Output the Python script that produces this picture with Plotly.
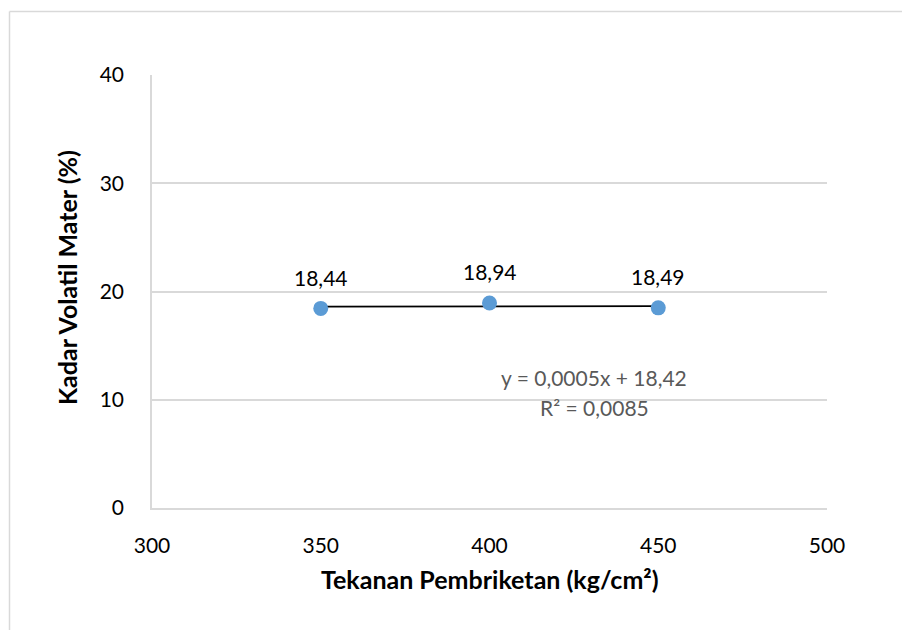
import numpy as np
import plotly.graph_objects as go

# Briquetting pressure vs. volatile matter content
tekanan = [350, 400, 450]
kadar_volatil = [18.44, 18.94, 18.49]
label_nilai = ["18,44", "18,94", "18,49"]

x_ticks = [300, 350, 400, 450, 500]
y_ticks = [0, 10, 20, 30, 40]

# Linear trendline as reported on the chart
trend_slope = 0.0005
trend_intercept = 18.42
eq_text = "y = 0,0005x + 18,42"
r2_text = "R² = 0,0085"

# Least-squares fit used to draw the trendline segment
slope, intercept = np.polyfit(tekanan, kadar_volatil, 1)

FONT = "Lato, 'Open Sans', sans-serif"
GRID = "#d9d9d9"

# Plot-area geometry in pixels (used for outline/title placement)
PL, PR, PT, PB = 152, 827, 75, 508
W, H = PR - PL, PB - PT


def px_x(p):
    return (p - PL) / W


def px_y(p):
    return (PB - p) / H


fig = go.Figure()

fig.add_trace(go.Scatter(
    x=[tekanan[0], tekanan[-1]],
    y=[slope * tekanan[0] + intercept, slope * tekanan[-1] + intercept],
    mode="lines",
    line=dict(color="black", width=1.6),
    hoverinfo="skip",
    showlegend=False,
))

fig.add_trace(go.Scatter(
    x=tekanan,
    y=kadar_volatil,
    mode="markers",
    marker=dict(color="#5b9bd5", size=15),
    showlegend=False,
))

# Data labels above each point
for xv, yv, lab in zip(tekanan, kadar_volatil, label_nilai):
    fig.add_annotation(
        x=xv, y=yv, text=lab, showarrow=False,
        yshift=31, yanchor="middle", xanchor="center",
        font=dict(family=FONT, size=21, color="black"),
    )

# Trendline equation and R²
fig.add_annotation(
    x=431, y=12.02, text=eq_text, showarrow=False,
    xanchor="center", yanchor="middle",
    font=dict(family=FONT, size=21, color="#595959"),
)
fig.add_annotation(
    x=431, y=9.25, text=r2_text, showarrow=False,
    xanchor="center", yanchor="middle",
    font=dict(family=FONT, size=21, color="#595959"),
)

# Axis titles
fig.add_annotation(
    xref="paper", yref="paper", x=px_x(490), y=px_y(579),
    text="<b>Tekanan Pembriketan (kg/cm²)</b>", showarrow=False,
    xanchor="center", yanchor="middle",
    font=dict(family=FONT, size=25, color="black"),
)
fig.add_annotation(
    xref="paper", yref="paper", x=px_x(67), y=px_y(278),
    text="<b>Kadar Volatil Mater (%)</b>", showarrow=False,
    textangle=-90, xanchor="center", yanchor="middle",
    font=dict(family=FONT, size=25, color="black"),
)

# Chart area outline (left and top edges)
left = px_x(9.5)
top = px_y(11.5)
fig.add_shape(type="line", xref="paper", yref="paper",
              x0=left, y0=-0.5, x1=left, y1=top,
              line=dict(color=GRID, width=1.5))
fig.add_shape(type="line", xref="paper", yref="paper",
              x0=left, y0=top, x1=1.5, y1=top,
              line=dict(color=GRID, width=1.5))

fig.update_layout(
    width=902, height=630,
    margin=dict(l=PL, r=902 - PR, t=PT, b=630 - PB),
    paper_bgcolor="white",
    plot_bgcolor="white",
    font=dict(family=FONT, size=21, color="black"),
)

fig.update_xaxes(
    range=[300, 500], tickvals=x_ticks,
    showgrid=False, zeroline=False,
    showline=True, linecolor=GRID, linewidth=1.5,
    ticks="", ticklabelstandoff=18,
    tickfont=dict(family=FONT, size=21, color="black"),
)
fig.update_yaxes(
    range=[0, 40], tickvals=y_ticks,
    showgrid=True, gridcolor=GRID, gridwidth=1.5,
    zeroline=False,
    showline=True, linecolor=GRID, linewidth=1.5,
    ticks="", ticklabelstandoff=22,
    tickfont=dict(family=FONT, size=21, color="black"),
)

fig.write_html("out.html")
